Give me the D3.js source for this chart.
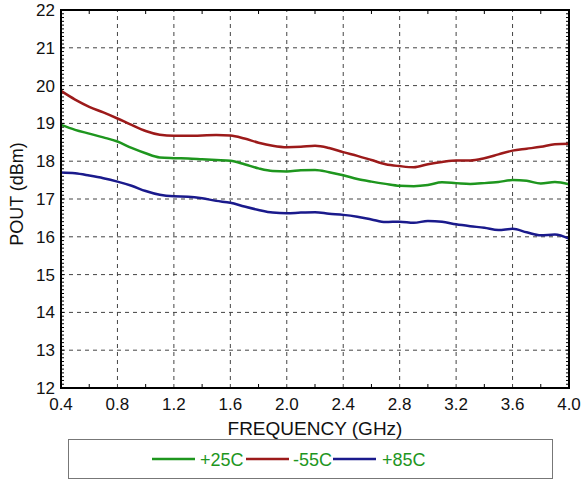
<!DOCTYPE html>
<html>
<head>
<meta charset="utf-8">
<script src="https://cdn.jsdelivr.net/npm/d3@7"></script>
<style>
  body { margin: 0; background: #fff; }
  text { font-family: "Liberation Sans", Arial, sans-serif; fill: #111; }
</style>
</head>
<body>
<svg id="chart" width="583" height="483"></svg>
<script>
// frequency points (GHz)
var freqs = [0.4, 0.5, 0.6, 0.7, 0.8, 0.9, 1.0, 1.1, 1.2, 1.3, 1.4, 1.5, 1.6, 1.7, 1.8, 1.9, 2.0, 2.1, 2.2,
             2.3, 2.4, 2.5, 2.6, 2.7, 2.8, 2.9, 3.0, 3.1, 3.2, 3.3, 3.4, 3.5, 3.6, 3.7, 3.8, 3.9, 4.0];

// POUT (dBm) per temperature
var pout25 = [18.96, 18.83, 18.73, 18.63, 18.52, 18.35, 18.21, 18.10, 18.08, 18.07, 18.05, 18.03, 18.01, 17.92,
              17.81, 17.74, 17.73, 17.76, 17.77, 17.71, 17.63, 17.53, 17.46, 17.40, 17.35, 17.34, 17.37, 17.44,
              17.42, 17.40, 17.42, 17.45, 17.50, 17.48, 17.41, 17.45, 17.39];
var poutM55 = [19.86, 19.63, 19.44, 19.29, 19.13, 18.96, 18.80, 18.70, 18.67, 18.67, 18.68, 18.69, 18.68, 18.60,
               18.49, 18.41, 18.37, 18.38, 18.41, 18.35, 18.24, 18.14, 18.03, 17.92, 17.87, 17.84, 17.92, 17.98,
               18.02, 18.02, 18.08, 18.18, 18.28, 18.33, 18.38, 18.45, 18.46];
var pout85 = [17.70, 17.68, 17.62, 17.55, 17.46, 17.35, 17.21, 17.11, 17.07, 17.06, 17.02, 16.95, 16.90, 16.80,
              16.71, 16.64, 16.62, 16.64, 16.65, 16.61, 16.58, 16.53, 16.46, 16.39, 16.40, 16.37, 16.42, 16.40,
              16.33, 16.28, 16.24, 16.18, 16.21, 16.12, 16.04, 16.06, 15.95];

var xTicks = [0.4, 0.8, 1.2, 1.6, 2.0, 2.4, 2.8, 3.2, 3.6, 4.0];
var yTicks = [12, 13, 14, 15, 16, 17, 18, 19, 20, 21, 22];

var seriesNames = ["+25C", "-55C", "+85C"];
var seriesColors = {"+25C": "#1e961e", "-55C": "#9c1a1a", "+85C": "#1a1a8c"};

var svg = d3.select("#chart");
var margin = {left: 61, top: 10, right: 14, bottom: 95};
var W = 583, H = 483;
var plotW = W - margin.left - margin.right,
    plotH = H - margin.top - margin.bottom;

var x = d3.scaleLinear().domain([0.4, 4.0]).range([margin.left, margin.left + plotW]);
var y = d3.scaleLinear().domain([12, 22]).range([margin.top + plotH, margin.top]);

// grid
var grid = svg.append("g").attr("stroke", "#444").attr("stroke-width", 1).attr("stroke-dasharray", "4,4");
xTicks.slice(1, -1).forEach(function (t) {
    grid.append("line").attr("x1", x(t)).attr("x2", x(t)).attr("y1", y(12)).attr("y2", y(22));
});
yTicks.slice(1, -1).forEach(function (t) {
    grid.append("line").attr("x1", x(0.4)).attr("x2", x(4.0)).attr("y1", y(t)).attr("y2", y(t));
});

// minor ticks
var minor = svg.append("g").attr("stroke", "#000").attr("stroke-width", 1);
d3.range(0.6, 4.0, 0.4).forEach(function (t) {
    minor.append("line").attr("x1", x(t)).attr("x2", x(t)).attr("y1", y(12)).attr("y2", y(12) - 4);
    minor.append("line").attr("x1", x(t)).attr("x2", x(t)).attr("y1", y(22)).attr("y2", y(22) + 4);
});
d3.range(121, 220, 1).forEach(function (k) {
    var v = k / 10;
    minor.append("line").attr("x1", x(0.4)).attr("x2", x(0.4) + 3).attr("y1", y(v)).attr("y2", y(v));
    minor.append("line").attr("x1", x(4.0)).attr("x2", x(4.0) - 3).attr("y1", y(v)).attr("y2", y(v));
});

// lines
var dataBySeries = {"+25C": pout25, "-55C": poutM55, "+85C": pout85};
var line = d3.line()
    .x(function (d, i) { return x(freqs[i]); })
    .y(function (d) { return y(d); })
    .curve(d3.curveMonotoneX);
["+85C", "+25C", "-55C"].forEach(function (name) {
    svg.append("path")
        .datum(dataBySeries[name])
        .attr("d", line)
        .attr("fill", "none")
        .attr("stroke", seriesColors[name])
        .attr("stroke-width", 2.5);
});

// frame
svg.append("rect")
    .attr("x", x(0.4)).attr("y", y(22))
    .attr("width", plotW).attr("height", plotH)
    .attr("fill", "none").attr("stroke", "#000").attr("stroke-width", 2);

// tick labels
svg.append("g").selectAll("text").data(xTicks).enter().append("text")
    .attr("x", function (d) { return x(d); })
    .attr("y", 410)
    .attr("text-anchor", "middle")
    .attr("font-size", 17)
    .text(function (d) { return d3.format(".1f")(d); });

svg.append("g").selectAll("text").data(yTicks).enter().append("text")
    .attr("x", x(0.4) - 6)
    .attr("y", function (d) { return y(d) + 6; })
    .attr("text-anchor", "end")
    .attr("font-size", 17)
    .text(function (d) { return d; });

// axis titles
svg.append("text")
    .attr("x", 315).attr("y", 435)
    .attr("text-anchor", "middle")
    .attr("font-size", 19)
    .text("FREQUENCY (GHz)");

svg.append("text")
    .attr("transform", "translate(23,194) rotate(-90)")
    .attr("text-anchor", "middle")
    .attr("font-size", 18)
    .text("POUT (dBm)");

// legend
svg.append("rect")
    .attr("x", 68.5).attr("y", 439.5).attr("width", 484).attr("height", 39)
    .attr("fill", "#fff").attr("stroke", "#777").attr("stroke-width", 1);

var legendX = [152, 246, 333];
var labelGap = [48, 47, 49];
seriesNames.forEach(function (name, i) {
    var g = svg.append("g").attr("transform", "translate(" + legendX[i] + ",459)");
    g.append("line").attr("x1", 0).attr("x2", 43).attr("y1", 0).attr("y2", 0)
        .attr("stroke", seriesColors[name]).attr("stroke-width", 2.5);
    g.append("text").attr("x", labelGap[i]).attr("y", 6.5)
        .attr("font-size", 18)
        .style("fill", seriesColors["+25C"])
        .text(name);
});
</script>
</body>
</html>
